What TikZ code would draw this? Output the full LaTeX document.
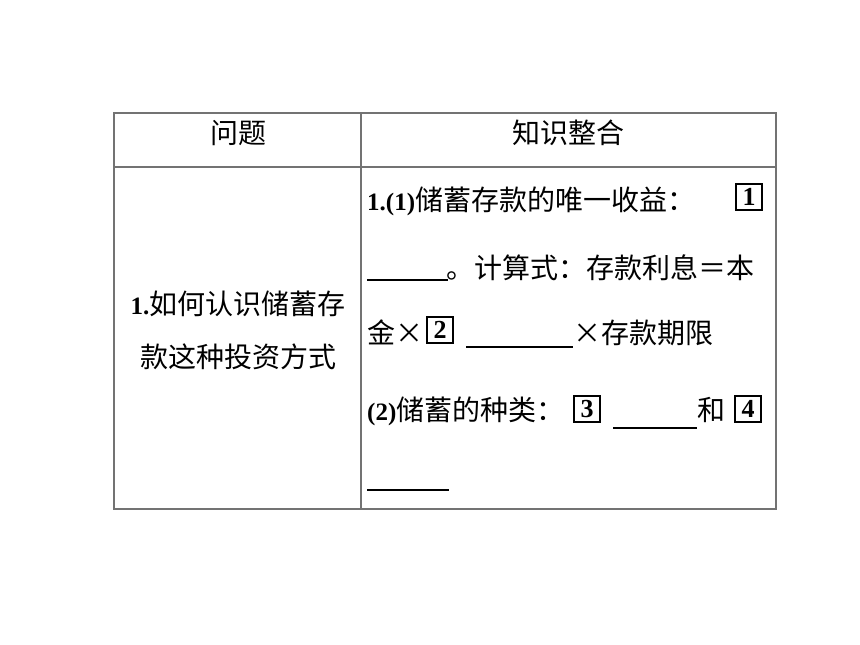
\documentclass[tikz,border=0pt]{standalone}
\usepackage{fontspec}
\setmainfont{Liberation Serif}
\newfontfamily\cjk[Scale=1.12]{Noto Sans CJK SC}
\begin{document}
\begin{tikzpicture}[x=1pt,y=-1pt,
  every node/.style={inner sep=0pt, font=\fontsize{25}{30}\selectfont},
  rule/.style={draw=black!55, line width=1.3pt},
  numbox/.style={draw=black, line width=1.6pt, minimum width=26pt, minimum height=26pt, inner sep=0pt, font=\fontsize{26}{30}\selectfont\bfseries},
  blank/.style={draw=black, line width=1.3pt}]
\useasboundingbox (0,0) rectangle (860,645);
% table frame
\coordinate (tl) at (114,113);
\coordinate (br) at (776,509);
\draw[rule] (tl) rectangle (br);
\draw[rule] (114,167) -- (776,167);
\draw[rule] (361,113) -- (361,509);
% header
\node (h1) at (238,133) {\cjk 问题};
\node (h2) at (568,133) {\cjk 知识整合};
% left column
\node (q1) at (238,304) {\textbf{1.}{\cjk 如何认识储蓄存}};
\node (q2) at (238,357) {\cjk 款这种投资方式};
% right column line 1
\node[anchor=base west] (l1) at (367,210) {\textbf{1.(1)}{\cjk 储蓄存款的唯一收益：}};
\node[numbox] (b1) at (749,197) {1};
% line 2
\coordinate (u1a) at (367,280);
\coordinate (u1b) at (448,280);
\draw[blank] (u1a) -- (u1b);
\node[anchor=base west] (l2) at (446,278) {\cjk 。计算式：存款利息＝本};
% line 3
\node[anchor=base west] (l3a) at (367,343) {\cjk 金×};
\node[numbox] (b2) at (440,330) {2};
\coordinate (u2a) at (466,347);
\coordinate (u2b) at (573,347);
\draw[blank] (u2a) -- (u2b);
\node[anchor=base west] (l3b) at (573,343) {\cjk ×存款期限};
% line 4
\node[anchor=base west] (l4) at (367,420) {\textbf{(2)}{\cjk 储蓄的种类：}};
\node[numbox] (b3) at (587,409) {3};
\coordinate (u3a) at (613,428);
\coordinate (u3b) at (697,428);
\draw[blank] (u3a) -- (u3b);
\node[anchor=base west] (he) at (697,420) {\cjk 和};
\node[numbox] (b4) at (748,409) {4};
% line 5
\coordinate (u4a) at (367,490);
\coordinate (u4b) at (449,490);
\draw[blank] (u4a) -- (u4b);
\end{tikzpicture}
\end{document}
